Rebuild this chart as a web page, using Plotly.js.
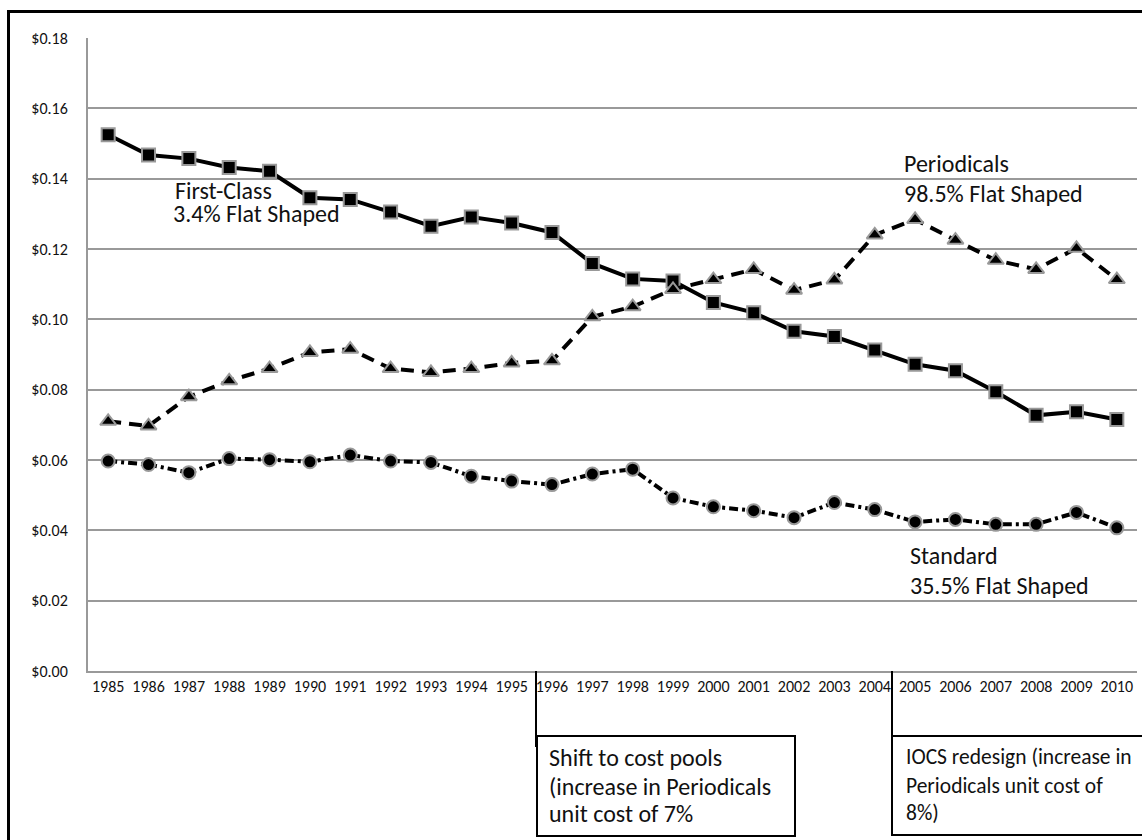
<!DOCTYPE html>
<html>
<head>
<meta charset="utf-8">
<script src="https://cdn.plot.ly/plotly-3.0.1.min.js"></script>
<style>html,body{margin:0;padding:0;background:#fff;overflow:hidden;}#chart{width:1142px;height:840px;}</style>
</head>
<body>
<div id="chart"></div>
<script>
// ---- data ----
const years = ['1985','1986','1987','1988','1989','1990','1991','1992','1993','1994','1995','1996','1997','1998','1999','2000','2001','2002','2003','2004','2005','2006','2007','2008','2009','2010'];
const firstClass = [0.1525,0.1467,0.1457,0.1432,0.1421,0.1346,0.1341,0.1305,0.1265,0.1291,0.1274,0.1247,0.1159,0.1115,0.1109,0.1048,0.1019,0.0966,0.0951,0.0913,0.0872,0.0854,0.0794,0.0727,0.0737,0.0715];
const periodicals = [0.0710,0.0697,0.0780,0.0825,0.0860,0.0906,0.0915,0.0860,0.0849,0.0860,0.0876,0.0882,0.1007,0.1036,0.1085,0.1113,0.1142,0.1083,0.1112,0.1240,0.1284,0.1225,0.1168,0.1142,0.1202,0.1113];
const standard = [0.0597,0.0587,0.0564,0.0604,0.0601,0.0595,0.0614,0.0597,0.0593,0.0554,0.0540,0.0530,0.0560,0.0574,0.0492,0.0467,0.0456,0.0436,0.0479,0.0459,0.0424,0.0431,0.0417,0.0417,0.0451,0.0407];
const seriesLabels = [['First-Class','3.4% Flat Shaped'],['Periodicals','98.5% Flat Shaped'],['Standard','35.5% Flat Shaped']];
const eventNotes = [['Shift to cost pools','(increase in Periodicals','unit cost of 7%'],['IOCS redesign (increase in','Periodicals unit cost of','8%)']];

// ---- layout geometry (pixels) ----
const W = 1142, H = 840;
const L = 88, R = 1137, T = 38, B = 671;
const px = x => (x - L) / (R - L);
const py = y => (B - y) / (B - T);
const FONT = 'Carlito, Lato, sans-serif';

const mk = (sym, size) => ({symbol: sym, size: size, color: '#000', line: {color: '#999', width: 2}});
const traces = [
  {x: years, y: firstClass, type: 'scatter', mode: 'lines+markers', name: 'First-Class',
   line: {color: '#000', width: 4}, marker: mk('square', 13)},
  {x: years, y: periodicals, type: 'scatter', mode: 'lines+markers', name: 'Periodicals',
   line: {color: '#000', width: 4, dash: '13px,8px'}, marker: mk('triangle-up', 14)},
  {x: years, y: standard, type: 'scatter', mode: 'lines+markers', name: 'Standard',
   line: {color: '#000', width: 4, dash: '9px,4px,3px,4px'}, marker: mk('circle', 13)}
];

const ann = [];
function txt(t, xL, yC, size) {
  ann.push({text: t, xref: 'paper', yref: 'paper', x: px(xL), y: py(yC), xanchor: 'left', yanchor: 'middle',
    showarrow: false, align: 'left', font: {family: FONT, size: size, color: '#111'}});
}
// series labels
txt(seriesLabels[0][0], 173, 190, 24);
txt(seriesLabels[0][1], 171, 213, 24);
txt(seriesLabels[1][0], 902, 163, 24);
txt(seriesLabels[1][1], 902, 193, 24);
txt(seriesLabels[2][0], 908, 555, 24);
txt(seriesLabels[2][1], 908, 585, 24);
// event note boxes
const boxX = [547, 904];
const boxFont = [24, 21.5];
const lineY = [757, 786, 813];
eventNotes.forEach((lines, i) => lines.forEach((t, j) => txt(t, boxX[i], lineY[j], boxFont[i])));

const ln = (x0, y0, x1, y1, w, c) => ({type: 'line', xref: 'paper', yref: 'paper', x0: px(x0), y0: py(y0), x1: px(x1), y1: py(y1), line: {color: c || '#000', width: w}});
const rect = (x0, y0, x1, y1, w) => ({type: 'rect', xref: 'paper', yref: 'paper', x0: px(x0), y0: py(y0), x1: px(x1), y1: py(y1), line: {color: '#000', width: w}, fillcolor: 'rgba(0,0,0,0)'});

const shapes = [
  rect(8.5, 11.5, 1250, 900, 3),
  ln(536, 671, 536, 747, 2),
  rect(537, 736, 795, 836, 2),
  ln(892, 671, 892, 746, 2),
  rect(892, 736, 1250, 835, 2)
];

const layout = {
  width: W, height: H,
  margin: {l: L, r: W - R, t: T, b: H - B, pad: 0},
  paper_bgcolor: '#fff', plot_bgcolor: '#fff',
  showlegend: false,
  font: {family: FONT, color: '#111'},
  xaxis: {type: 'category', range: [-0.5, 25.5], showgrid: false, zeroline: false,
    showline: true, linecolor: '#999', linewidth: 2, ticks: '', tickangle: 0,
    tickfont: {family: FONT, size: 16, color: '#111'}, ticklabelstandoff: 0, fixedrange: true},
  yaxis: {range: [0, 0.18], dtick: 0.02, tick0: 0, tickformat: '$.2f', showgrid: true,
    gridcolor: '#999', gridwidth: 2, zeroline: false, showline: true, linecolor: '#999', linewidth: 2,
    ticks: '', tickfont: {family: FONT, size: 16, color: '#111'}, ticklabelstandoff: 15, fixedrange: true},
  annotations: ann,
  shapes: shapes
};

Plotly.newPlot('chart', traces, layout, {displayModeBar: false, staticPlot: true});
</script>
</body>
</html>
